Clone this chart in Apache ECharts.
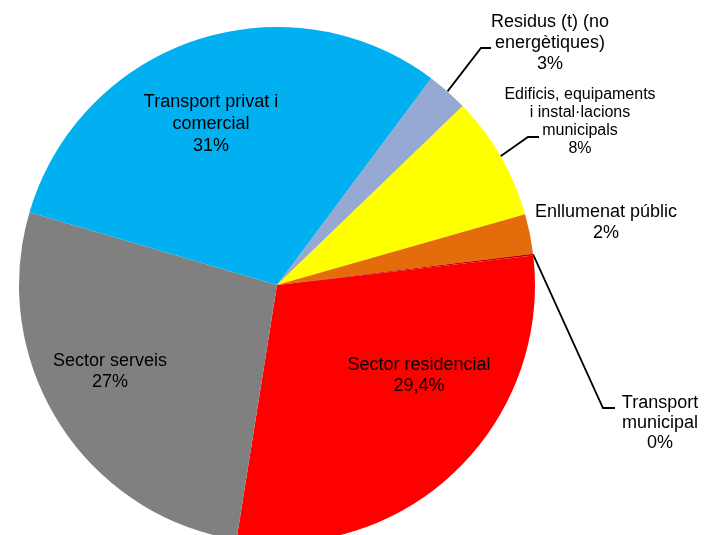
<!DOCTYPE html>
<html><head><meta charset="utf-8">
<script src="https://cdn.jsdelivr.net/npm/echarts@6/dist/echarts.min.js"></script>
<style>html,body{margin:0;padding:0;background:#fff}#c{width:704px;height:535px}</style>
</head><body><div id="c"></div>
<script>
// ---- data ----
const categories = ['Residus (t) (no\nenergètiques)', 'Edificis, equipaments\ni instal·lacions\nmunicipals', 'Enllumenat públic', 'Transport\nmunicipal', 'Sector residencial', 'Sector serveis', 'Transport privat i\ncomercial'];
const values = [2.6, 7.8, 2.5, 0.1, 29.4, 27.1, 30.7];
const pctLabels = ['3%', '8%', '2%', '0%', '29,4%', '27%', '31%'];

// ---- styles / layout ----
const colors = ['#95A9D3', '#FFFF00', '#E46C0A', '#C00000', '#FF0000', '#808080', '#00B0F0'];
const CENTER = [277, 285];
const RADIUS = 258;
const START_ANGLE = 53.3;
const labelPos = [[550, 43], [580, 122], [606, 223], [660, 423], [419, 376], [110, 372], [211, 124]];
const labelFont = [18, 16, 18, 18, 18, 18, 18];
const labelLH = [21, 18, 21, 20, 21, 21, 22];
const leaders = { 0: [[481, 48], [491, 48]], 1: [[528, 137], [539, 137]], 3: [[603, 408], [615, 408]] };

const total = values.reduce((a, b) => a + b, 0);
function edgePoint(i) {
  let cum = 0;
  for (let k = 0; k < i; k++) cum += values[k];
  const mid = (cum + values[i] / 2) / total * 360;
  const a = (START_ANGLE - mid) * Math.PI / 180;
  return [CENTER[0] + RADIUS * Math.cos(a), CENTER[1] - RADIUS * Math.sin(a)];
}

const data = values.map((v, i) => ({
  name: categories[i],
  value: v,
  itemStyle: { color: colors[i] },
  label: { fontSize: labelFont[i], lineHeight: labelLH[i] },
  labelLine: { show: !!leaders[i] }
}));

const chart = echarts.init(document.getElementById('c'), null, { renderer: 'canvas' });
chart.setOption({
  animation: false,
  backgroundColor: '#ffffff',
  series: [{
    type: 'pie',
    center: CENTER,
    radius: RADIUS,
    startAngle: START_ANGLE,
    clockwise: true,
    avoidLabelOverlap: false,
    minShowLabelAngle: 0,
    data: data,
    label: {
      show: true,
      position: 'outside',
      color: '#000000',
      fontFamily: '"Liberation Sans", Arial, sans-serif',
      formatter: p => p.name + '\n' + pctLabels[p.dataIndex]
    },
    labelLine: { show: true, lineStyle: { color: '#000000', width: 1.8 } },
    emphasis: { disabled: true },
    labelLayout: function (params) {
      const i = params.dataIndex;
      const out = { x: labelPos[i][0], y: labelPos[i][1], align: 'center', verticalAlign: 'middle' };
      if (leaders[i]) out.labelLinePoints = [edgePoint(i)].concat(leaders[i]);
      return out;
    }
  }]
});
</script>
</body></html>
